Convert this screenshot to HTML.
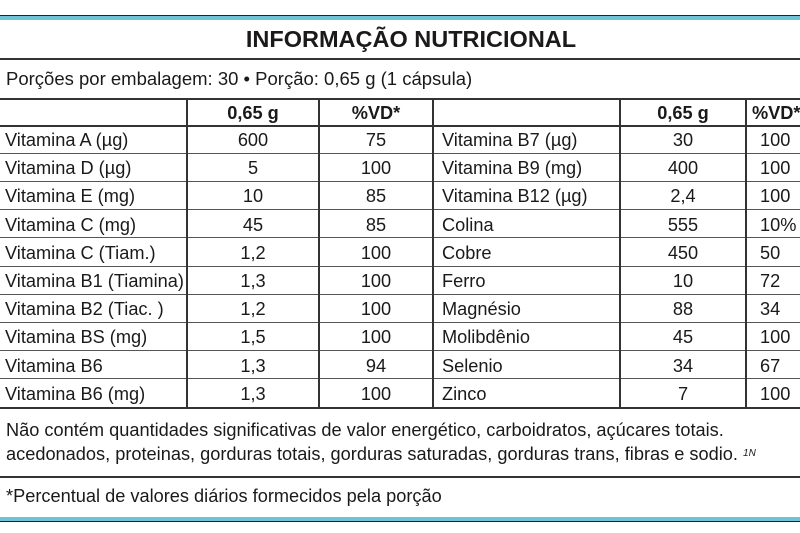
<!DOCTYPE html>
<html><head><meta charset="utf-8"><style>
body{margin:0;width:800px;height:533px;background:#fff;position:relative;overflow:hidden;font-family:"Liberation Sans",sans-serif;color:#1a1a1a}
.h{position:absolute;left:0;width:800px;background:#333}
.v{position:absolute;width:2px;background:#333}
.t{position:absolute;font-size:18.2px;line-height:20px;white-space:nowrap}
.c{text-align:center}
</style></head><body>
<div class="h" style="top:15px;height:1px;background:#222"></div>
<div class="h" style="top:16px;height:4px;background:#6fc3d6"></div>
<div class="t" style="left:0;width:822px;top:27px;font-size:23.5px;font-weight:bold;text-align:center;line-height:24px">INFORMAÇÃO NUTRICIONAL</div>
<div class="h" style="top:58px;height:2px"></div>
<div class="t" style="left:6px;top:69px;font-size:18.5px">Porções por embalagem: 30 • Porção: 0,65 g (1 cápsula)</div>
<div class="h" style="top:98px;height:2px"></div>
<div class="h" style="top:125px;height:2px"></div>
<div id="rows"></div>
<div class="h" style="top:407px;height:2px"></div>
<div class="v" style="left:186px;top:98px;height:311px"></div>
<div class="v" style="left:318px;top:98px;height:311px"></div>
<div class="v" style="left:432px;top:98px;height:311px"></div>
<div class="v" style="left:619px;top:98px;height:311px"></div>
<div class="v" style="left:745px;top:98px;height:311px"></div>
<div class="t c" style="left:188px;width:130px;top:103px;font-weight:bold">0,65 g</div>
<div class="t c" style="left:320px;width:112px;top:103px;font-weight:bold">%VD*</div>
<div class="t c" style="left:621px;width:124px;top:103px;font-weight:bold">0,65 g</div>
<div class="t" style="left:752px;top:103px;font-weight:bold">%VD*</div>
<script>
var L=[["Vitamina A (µg)","600","75","Vitamina B7 (µg)","30","100"],["Vitamina D (µg)","5","100","Vitamina B9 (mg)","400","100"],["Vitamina E (mg)","10","85","Vitamina B12 (µg)","2,4","100"],["Vitamina C (mg)","45","85","Colina","555","10%"],["Vitamina C (Tiam.)","1,2","100","Cobre","450","50"],["Vitamina B1 (Tiamina)","1,3","100","Ferro","10","72"],["Vitamina B2 (Tiac. )","1,2","100","Magnésio","88","34"],["Vitamina BS (mg)","1,5","100","Molibdênio","45","100"],["Vitamina B6","1,3","94","Selenio","34","67"],["Vitamina B6 (mg)","1,3","100","Zinco","7","100"]];
var h="";
for(var i=0;i<10;i++){var y=125+i*28.2,r=L[i];
if(i>0)h+='<div class="h" style="top:'+(y-0.5)+'px;height:1px;background:#555"></div>';
var ty=y+5;
h+='<div class="t" style="left:5px;top:'+ty+'px">'+r[0]+'</div>';
h+='<div class="t c" style="left:188px;width:130px;top:'+ty+'px">'+r[1]+'</div>';
h+='<div class="t c" style="left:320px;width:112px;top:'+ty+'px">'+r[2]+'</div>';
h+='<div class="t" style="left:442px;top:'+ty+'px">'+r[3]+'</div>';
h+='<div class="t c" style="left:621px;width:124px;top:'+ty+'px">'+r[4]+'</div>';
h+='<div class="t" style="left:760px;top:'+ty+'px">'+r[5]+'</div>';}
document.getElementById("rows").innerHTML=h;
</script>
<div class="t" style="left:6px;top:420px;font-size:18.2px">Não contém quantidades significativas de valor energético, carboidratos, açúcares totais.</div>
<div class="t" style="left:6px;top:444px;font-size:18.2px">acedonados, proteinas, gorduras totais, gorduras saturadas, gorduras trans, fibras e sodio. <span style="font-size:10px;font-style:italic;vertical-align:top">1N</span></div>
<div class="h" style="top:476px;height:2px"></div>
<div class="t" style="left:6px;top:486px;font-size:18.2px">*Percentual de valores diários formecidos pela porção</div>
<div class="h" style="top:517px;height:4px;background:#6fc3d6"></div>
<div class="h" style="top:521px;height:1px;background:#222"></div>
</body></html>
